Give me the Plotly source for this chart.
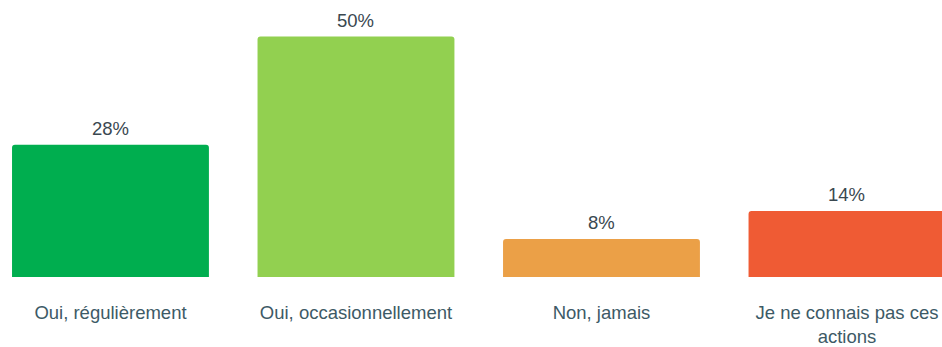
import plotly.graph_objects as go

categories = ["Oui, régulièrement", "Oui, occasionnellement", "Non, jamais", "Je ne connais pas ces<br>actions"]
values = [27.5, 50.0, 7.9, 13.7]
value_labels = ["28%", "50%", "8%", "14%"]
colors = ["#00AE4F", "#92D050", "#EBA047", "#EF5B34"]

FONT = "Liberation Sans, Arial, sans-serif"

fig = go.Figure()
fig.add_trace(go.Bar(
    x=list(range(len(categories))),
    y=values,
    marker=dict(color=colors, line=dict(width=0)),
    width=0.802,
    hoverinfo="skip",
))

for i, (v, t) in enumerate(zip(values, value_labels)):
    fig.add_annotation(
        x=i, y=v, text=t, showarrow=False, yanchor="bottom", yshift=4,
        font=dict(family=FONT, size=18.5, color="#3a4850"),
    )

fig.update_layout(
    width=942, height=347,
    margin=dict(l=0, r=0, t=0, b=70, autoexpand=False),
    paper_bgcolor="white", plot_bgcolor="white",
    barcornerradius=3,
    showlegend=False,
    xaxis=dict(
        range=[-0.45, 3.387],
        tickmode="array",
        tickvals=list(range(len(categories))),
        ticktext=categories,
        showgrid=False, zeroline=False, showline=False,
        automargin=False,
        ticks="", ticklabelstandoff=22,
        tickfont=dict(family=FONT, size=18.5, color="#3d5a66"),
    ),
    yaxis=dict(
        range=[0, 57.6],
        visible=False,
        automargin=False,
        showgrid=False, zeroline=False,
    ),
)

fig.write_html(
    "out.html",
    config={"displayModeBar": False, "staticPlot": True},
    post_script="document.body.style.margin='0';document.documentElement.style.overflow='hidden';document.body.style.overflow='hidden';",
)
